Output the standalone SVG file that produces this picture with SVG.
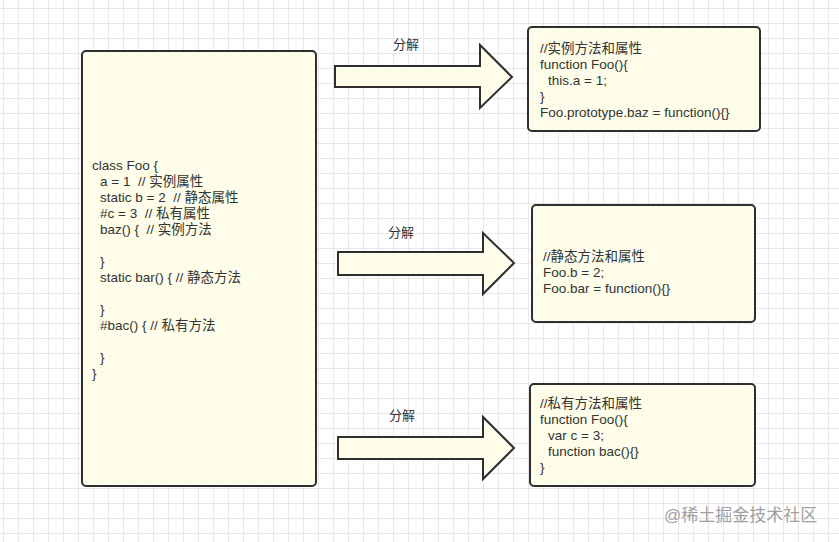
<svg xmlns="http://www.w3.org/2000/svg" width="839" height="542" viewBox="0 0 839 542">
<defs>
<pattern id="grid" patternUnits="userSpaceOnUse" x="3" y="8" width="15" height="15">
<path d="M0 0.5H15M0.5 0V15" fill="none" stroke="#e8e8e8" stroke-width="1"/>
</pattern>
<style>
.box{fill:#fdfde9;stroke:#2e2e2e;stroke-width:2}
.arrow{fill:#fdfde9;stroke:#2e2e2e;stroke-width:2;stroke-linejoin:miter}
.t{font-family:"Liberation Sans","Noto Sans CJK SC",sans-serif;font-size:13.5px;fill:#333;white-space:pre}
.lbl{font-family:"Liberation Sans","Noto Sans CJK SC",sans-serif;font-size:13px;fill:#333;text-anchor:middle}
.wm{font-family:"Liberation Sans","Noto Sans CJK SC",sans-serif;font-size:17px;fill:#a0a0a0}
</style>
</defs>
<rect width="839" height="542" fill="#ffffff"/>
<rect width="839" height="542" fill="url(#grid)"/>

<g id="class-foo">
<rect class="box" x="82" y="51" width="234" height="435" rx="4"/>
<text class="t" x="92" y="170">class Foo {</text>
<text class="t" x="100" y="186" xml:space="preserve">a = 1  // 实例属性</text>
<text class="t" x="100" y="202" xml:space="preserve">static b = 2  // 静态属性</text>
<text class="t" x="100" y="218" xml:space="preserve">#c = 3  // 私有属性</text>
<text class="t" x="100" y="234" xml:space="preserve">baz() {  // 实例方法</text>
<text class="t" x="100" y="266">}</text>
<text class="t" x="100" y="282">static bar() { // 静态方法</text>
<text class="t" x="100" y="314">}</text>
<text class="t" x="100" y="330">#bac() { // 私有方法</text>
<text class="t" x="100" y="362">}</text>
<text class="t" x="92" y="378">}</text>
</g>

<g id="connectors">
<g id="arrow-1">
<polygon class="arrow" points="335,66 480,66 480,45 512,77 480,108 480,87 335,87"/>
<text class="lbl" x="406" y="49">分解</text>
</g>
<g id="arrow-2">
<polygon class="arrow" points="338,252 483,252 483,233 514,263 483,294 483,275 338,275"/>
<text class="lbl" x="401" y="237">分解</text>
</g>
<g id="arrow-3">
<polygon class="arrow" points="338,437 483,437 483,417 514,448 483,479 483,459 338,459"/>
<text class="lbl" x="402" y="420">分解</text>
</g>
</g>

<g id="instance">
<rect class="box" x="528" y="27" width="232" height="104" rx="4"/>
<text class="t" x="540" y="53">//实例方法和属性</text>
<text class="t" x="540" y="69">function Foo(){</text>
<text class="t" x="548" y="85">this.a = 1;</text>
<text class="t" x="540" y="101">}</text>
<text class="t" x="540" y="117">Foo.prototype.baz = function(){}</text>
</g>

<g id="static">
<rect class="box" x="532" y="205" width="223" height="117" rx="4"/>
<text class="t" x="543" y="261">//静态方法和属性</text>
<text class="t" x="543" y="277">Foo.b = 2;</text>
<text class="t" x="543" y="293">Foo.bar = function(){}</text>
</g>

<g id="private">
<rect class="box" x="530" y="384" width="225" height="102" rx="4"/>
<text class="t" x="540" y="408">//私有方法和属性</text>
<text class="t" x="540" y="424">function Foo(){</text>
<text class="t" x="548" y="440">var c = 3;</text>
<text class="t" x="548" y="456">function bac(){}</text>
<text class="t" x="540" y="472">}</text>
</g>

<text class="wm" x="664" y="521">@稀土掘金技术社区</text>
</svg>
